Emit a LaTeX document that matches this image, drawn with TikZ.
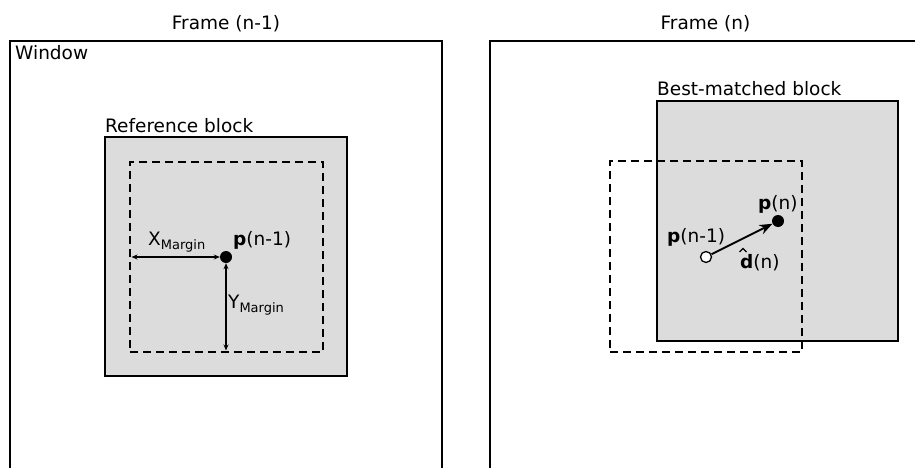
\documentclass[tikz,border=0pt]{standalone}
\usepackage{fontspec}
\setmainfont{DejaVu Sans}
\usetikzlibrary{arrows.meta}
\definecolor{blockgray}{RGB}{220,220,220}
\begin{document}
\begin{tikzpicture}[x=1pt,y=-1pt,
  winframe/.style={draw=black, line width=2pt},
  blockbox/.style={draw=black, line width=2pt, fill=blockgray, inner sep=0pt},
  dashbox/.style={draw=black, line width=2pt, dash pattern=on 8pt off 5pt, inner sep=0pt},
  lbl/.style={font=\fontsize{18.5}{20}\selectfont, inner sep=0pt, anchor=base west},
  blackdot/.style={circle, fill=black, inner sep=0pt, minimum size=12pt},
  whitedot/.style={circle, fill=white, draw=black, line width=1.3pt, inner sep=0pt, minimum size=11pt},
  marginarrow/.style={line width=1.1pt, {Stealth[length=6pt,width=5pt]}-{Stealth[length=6pt,width=5pt]}},
  motionarrow/.style={line width=2pt, -{Stealth[length=13pt,width=10pt]}},
  hatline/.style={line width=1.3pt, line join=miter}
]
\newcommand{\subtxt}[1]{\raisebox{-4pt}{\fontsize{13}{14}\selectfont #1}}
\useasboundingbox (0,0) rectangle (915,468);
\clip (0,0) rectangle (915,468);
\fill[white] (0,0) rectangle (915,468);

% titles
\node[lbl, anchor=base] (t1) at (226,29.5) {Frame (n-1)};
\node[lbl, anchor=base] (t2) at (705.5,29.5) {Frame (n)};

% windows
\draw[winframe] (10,480) -- (10,41) -- (442,41) -- (442,480);
\draw[winframe] (490,480) -- (490,41) -- (930,41);
\node[lbl] (win) at (15,60) {Window};

% left: reference block
\node[blockbox, minimum width=242pt, minimum height=239pt] (ref) at (226,256.5) {};
\node[lbl] (reflbl) at (105,132) {Reference block};
\node[dashbox, minimum width=193pt, minimum height=190pt] (refin) at (226.5,257) {};
\node[blackdot] (pprev) at (226,257) {};
\draw[marginarrow] ([xshift=2.5pt]refin.west) -- (pprev.west);
\draw[marginarrow] (pprev.south) -- ([yshift=2.5pt]refin.south -| pprev);
\node[lbl] (xm) at (148,245) {X\subtxt{Margin}};
\node[lbl] (ym) at (228,308) {Y\subtxt{Margin}};
\node[lbl] (pl) at (233,245.5) {\textbf{p}(n-1)};

% right: best-matched block
\node[blockbox, minimum width=241pt, minimum height=240pt] (best) at (777.5,221) {};
\node[lbl] (bestlbl) at (657,96) {Best-matched block};
\node[dashbox, minimum width=192pt, minimum height=191pt] (prevblk) at (706,256.5) {};
\node[whitedot] (pw) at (706,257) {};
\node[blackdot] (pn) at (778,221) {};
\draw[motionarrow] (pw) -- (pn);
\node[lbl] (pnl) at (758,209) {\textbf{p}(n)};
\node[lbl] (pwl) at (667,242) {\textbf{p}(n-1)};
\node[lbl] (dl) at (740,268) {\textbf{d}(n)};
\draw[hatline] ([shift={(-0.5,-16)}]dl.base west) -- ([shift={(3,-19.5)}]dl.base west) -- ([shift={(6.5,-16)}]dl.base west);
\end{tikzpicture}
\end{document}
